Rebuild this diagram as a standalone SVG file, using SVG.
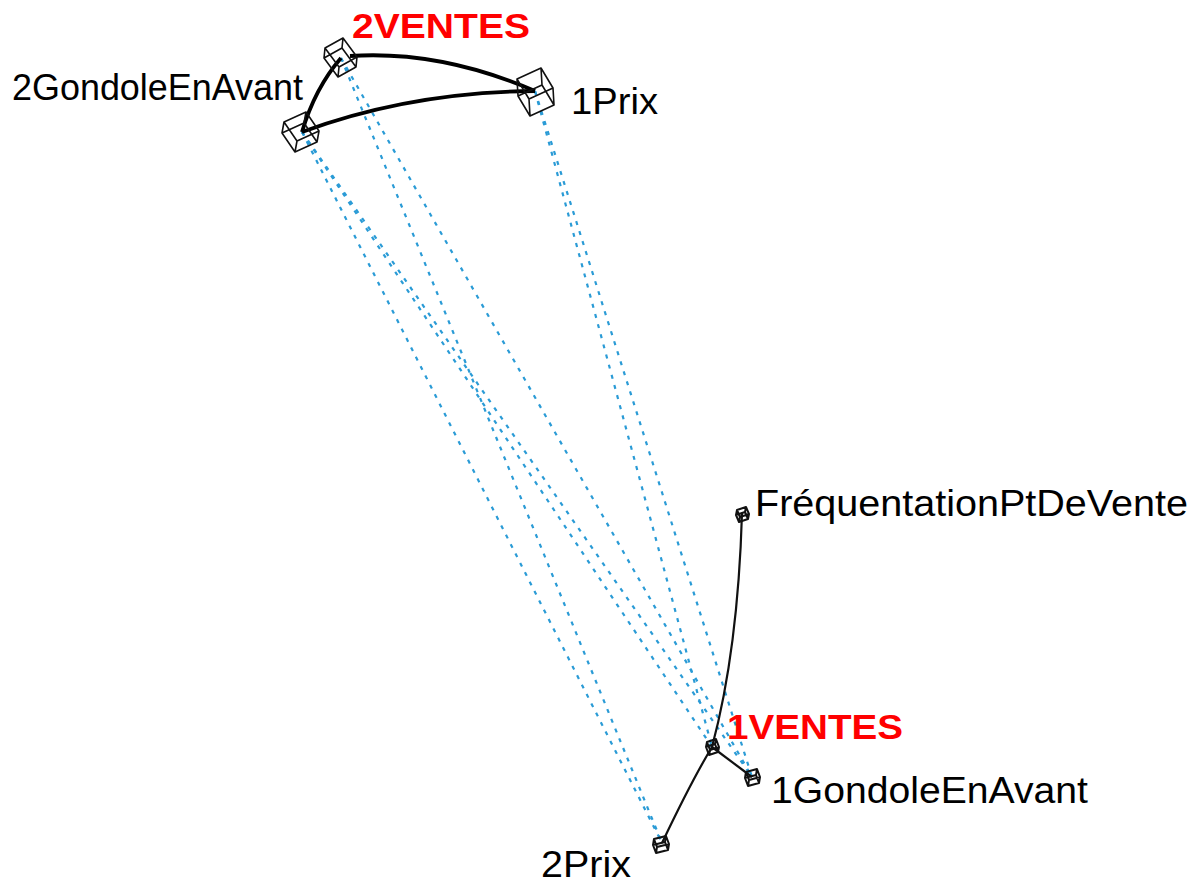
<svg xmlns="http://www.w3.org/2000/svg" width="1200" height="885" viewBox="0 0 1200 885">
<style>
.bg{fill:#fff}
.cube{fill:none;stroke:#111;stroke-width:1.6;stroke-linejoin:round}
.small{stroke-width:2}
.dep{fill:none;stroke:#2a9bd6;stroke-width:2.2;stroke-dasharray:4 6.5}
.thick{fill:none;stroke:#000;stroke-width:3.8}
.thin{fill:none;stroke:#111;stroke-width:2.2}
text{font-family:"Liberation Sans",Arial,sans-serif;font-size:36px;fill:#000}
.red{font-weight:bold;fill:#f00;font-size:35px}
</style>
<rect class="bg" width="1200" height="885"/>
<g id="connectors">
<path class="dep" d="M302 132L662 843"/>
<path class="dep" d="M302 132L712 747"/>
<path class="dep" d="M302 132L752 777"/>
<path class="dep" d="M341 58L662 843"/>
<path class="dep" d="M341 58L752 777"/>
<path class="dep" d="M535 91L712 747"/>
<path class="dep" d="M535 91L752 777"/>
<path class="thick" d="M302 132Q315 88 341 58"/>
<path class="thick" d="M350 56Q440 50 535 91"/>
<path class="thick" d="M302 132Q410 92 535 91"/>
<path class="thin" d="M742 513Q738 650 712 747"/>
<path class="thin" d="M712 747Q692 780 662 843"/>
<path class="thin" d="M712 747L752 777"/>
</g>
<g id="n-2VENTES">
<path class="cube" d="M325 48L343 38L357 57L356 67L338 77L324 58ZM325 48L339 67L357 57M339 67L338 77M343 38L342 48L356 67M342 48L324 58"/>
<text class="red" x="352" y="38" textLength="178" lengthAdjust="spacingAndGlyphs">2VENTES</text>
</g>
<g id="n-1Prix">
<path class="cube" d="M517 79L541 68L553 88L554 105L530 116L518 96ZM517 79L529 99L553 88M529 99L530 116M541 68L542 85L554 105M542 85L518 96"/>
<text x="571" y="114" textLength="87" lengthAdjust="spacingAndGlyphs">1Prix</text>
</g>
<g id="n-2GondoleEnAvant">
<path class="cube" d="M284 122L306 112L319 131L317 142L295 152L282 133ZM284 122L297 141L319 131M297 141L295 152M306 112L304 123L317 142M304 123L282 133"/>
<text x="12" y="100" textLength="291" lengthAdjust="spacingAndGlyphs">2GondoleEnAvant</text>
</g>
<g id="n-FrequentationPtDeVente">
<path class="cube small" d="M737 510L746 507L749 514L748 519L739 522L736 515ZM737 510L740 517L749 514M740 517L739 522M746 507L745 512L748 519M745 512L736 515"/>
<text x="755" y="516" textLength="433" lengthAdjust="spacingAndGlyphs">FréquentationPtDeVente</text>
</g>
<g id="n-1VENTES">
<path class="cube small" d="M707 742L716 739L719 747L718 752L709 755L706 747ZM707 742L710 750L719 747M710 750L709 755M716 739L715 744L718 752M715 744L706 747"/>
<text class="red" x="727" y="739" textLength="176" lengthAdjust="spacingAndGlyphs">1VENTES</text>
</g>
<g id="n-1GondoleEnAvant">
<path class="cube small" d="M746 772L757 769L760 777L759 783L748 786L745 778ZM746 772L749 780L760 777M749 780L748 786M757 769L756 775L759 783M756 775L745 778"/>
<text x="771" y="803" textLength="317" lengthAdjust="spacingAndGlyphs">1GondoleEnAvant</text>
</g>
<g id="n-2Prix">
<path class="cube small" d="M654 839L666 836L669 844L668 850L656 853L653 845ZM654 839L657 847L669 844M657 847L656 853M666 836L665 842L668 850M665 842L653 845"/>
<text x="541" y="877" textLength="90" lengthAdjust="spacingAndGlyphs">2Prix</text>
</g>
</svg>
